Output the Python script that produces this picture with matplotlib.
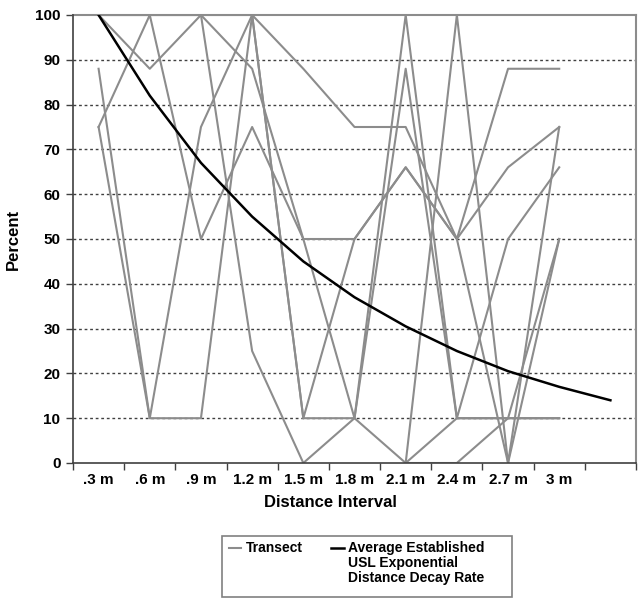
import numpy as np
import matplotlib
matplotlib.use('Agg')
import matplotlib.pyplot as plt
from matplotlib.lines import Line2D
from matplotlib.patches import Rectangle

plt.rcParams['font.family'] = ['Liberation Sans', 'DejaVu Sans']
plt.rcParams['font.weight'] = 'bold'

# categories (the 11th slot only carries the decay curve)
distance_labels = ['.3 m', '.6 m', '.9 m', '1.2 m', '1.5 m', '1.8 m', '2.1 m', '2.4 m', '2.7 m', '3 m', '']

# average established USL exponential distance decay rate
decay_rate = [100, 82, 67, 55, 45, 37, 30.5, 25, 20.5, 17, 14]

# individual transects, percent per distance interval (None = no value)
transect_a = [100, 88, 100, 88, 50, 50, 66, 50, 66, 75]
transect_b = [75, 100, 50, 75, 50, 10, 88, 10, 10, 10]
transect_c = [88, 10, 10, 100, 88, 75, 75, 50, 88, 88]
transect_d = [75, 10, 75, 100, 10, 50, 66, 50, 0, 50]
transect_e = [100, 100, 100, 25, 0, 10, 0, 100, 0, 75]
transect_f = [100, 100, 100, 100, 10, 10, 100, 10, 50, 66]
transect_g = [None, None, None, None, None, None, 0, 0, 10, 50]
transect_h = [None, None, None, None, None, None, 0, 10, 10, 10]

transects = [transect_a, transect_b, transect_c, transect_d,
             transect_e, transect_f, transect_g, transect_h]

W, H = 638, 600
fig = plt.figure(figsize=(W/100, H/100), dpi=100)
ax = fig.add_axes([73/W, 1-463/H, 563/W, 448/H])

grey = '#8c8c8c'
for t in transects:
	vals = np.array(t, dtype=float)
	ax.plot(np.arange(len(vals)), vals, color=grey, lw=1.5, zorder=3)

ax.plot(np.arange(len(decay_rate)), decay_rate, color='black', lw=1.8, zorder=4)

ax.set_xlim(-0.5, 10.5)
ax.set_ylim(0, 100)

# y axis
ax.set_yticks(np.arange(0, 101, 10))
ax.tick_params(axis='y', length=5, width=1, color='#404040', labelsize=11, pad=4)
for y in range(10, 100, 10):
	ax.axhline(y, color='#404040', lw=1, ls=(0, (2, 2)), zorder=1)

# x axis: labels at centers, tick marks between categories
ax.set_xticks(np.arange(len(distance_labels)))
ax.set_xticklabels(distance_labels)
ax.set_xticks(np.arange(-0.5, 11, 1), minor=True)
ax.tick_params(axis='x', which='major', length=0, labelsize=11, pad=7)
ax.tick_params(axis='x', which='minor', length=5, width=1, color='#404040')
for lab in ax.get_xticklabels() + ax.get_yticklabels():
	lab.set_fontweight('bold')

for s in ['top', 'right']:
	ax.spines[s].set_color('#8c8c8c')
	ax.spines[s].set_linewidth(1.5)
for s in ['left', 'bottom']:
	ax.spines[s].set_color('#404040')
	ax.spines[s].set_linewidth(1.2)
	ax.spines[s].set_zorder(5)

ax.set_ylabel('Percent', fontsize=12, fontweight='bold', labelpad=10)
ax.set_xlabel('Distance Interval', fontsize=12, fontweight='bold')
ax.xaxis.set_label_coords((330-73)/563, -0.072)

# legend drawn by hand so the handles sit on the first text line
def fx(x):
	return x / W
def fy(y):
	return 1 - y / H

fig.patches.append(Rectangle((fx(222), fy(597)), fx(512) - fx(222), fy(536) - fy(597),
                             transform=fig.transFigure, fill=False,
                             edgecolor='#808080', lw=1.2))
fig.lines.append(Line2D([fx(229), fx(241)], [fy(548), fy(548)], transform=fig.transFigure,
                        color=grey, lw=1.5))
fig.text(fx(246), fy(548), 'Transect', fontsize=10, fontweight='bold', va='center')
fig.lines.append(Line2D([fx(331), fx(344)], [fy(548), fy(548)], transform=fig.transFigure,
                        color='black', lw=1.8))
fig.text(fx(348), fy(541), 'Average Established\nUSL Exponential\nDistance Decay Rate',
         fontsize=10, fontweight='bold', va='top', linespacing=1.1)

plt.savefig('out.png', dpi=100)
